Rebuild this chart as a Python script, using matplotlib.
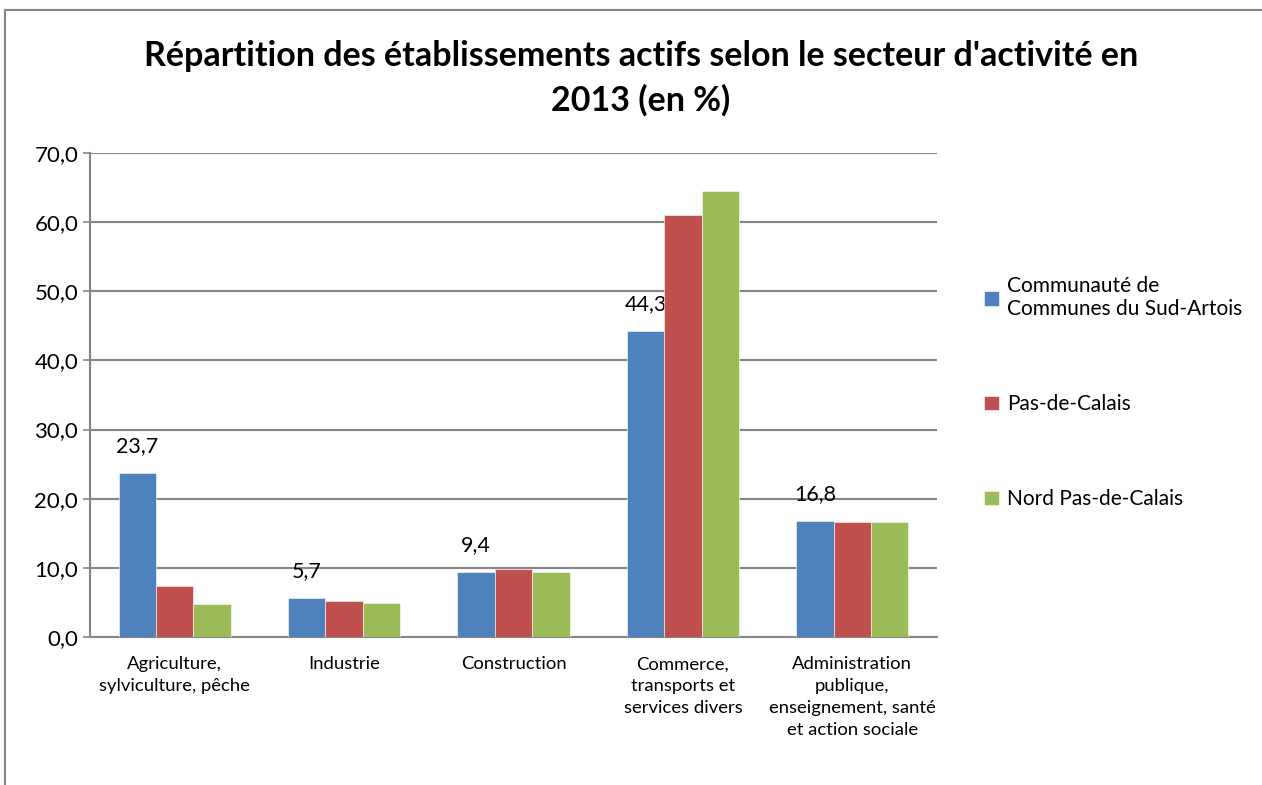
"""Répartition des établissements actifs par secteur d'activité, 2013."""
import matplotlib
matplotlib.use("Agg")
import matplotlib.pyplot as plt
import numpy as np
from matplotlib.patches import Rectangle
from matplotlib.ticker import FuncFormatter

categories = [
    "Agriculture,\nsylviculture, pêche",
    "Industrie",
    "Construction",
    "Commerce,\ntransports et\nservices divers",
    "Administration\npublique,\nenseignement, santé\net action sociale",
]
series_names = [
    "Communauté de\nCommunes du Sud-Artois",
    "Pas-de-Calais",
    "Nord Pas-de-Calais",
]
sud_artois = [23.7, 5.7, 9.4, 44.3, 16.8]
pas_de_calais = [7.4, 5.2, 9.8, 61.1, 16.7]
nord_pdc = [4.8, 4.9, 9.4, 64.5, 16.6]
colors = ["#4f81bd", "#c0504d", "#9bbb59"]

plt.rcParams["font.family"] = ["Lato", "DejaVu Sans"]

fig = plt.figure(figsize=(12.62, 7.85), dpi=100)
ax = fig.add_axes([0.0713, 0.1885, 0.6712, 0.6166])

x = np.arange(len(categories))
w = 0.221
all_series = [sud_artois, pas_de_calais, nord_pdc]
for i, (vals, name, col) in enumerate(zip(all_series, series_names, colors)):
    bars = ax.bar(x + (i - 1) * w, vals, w, color=col, label=name,
                  edgecolor="white", linewidth=0.4, zorder=3)
    if i == 0:
        for b, v in zip(bars, vals):
            ax.annotate(f"{v:.1f}".replace(".", ","),
                        (b.get_x() + b.get_width() / 2, v),
                        xytext=(0, 12), textcoords="offset points",
                        ha="center", va="bottom", fontsize=15.5)

ax.set_xlim(-0.5, len(categories) - 0.5)
ax.set_ylim(0, 70)
ax.set_yticks(np.arange(0, 71, 10))
ax.yaxis.set_major_formatter(FuncFormatter(lambda v, p: f"{v:.1f}".replace(".", ",")))
ax.grid(axis="y", color="#868686", linewidth=1.5, zorder=0)
ax.set_xticks(x)
ax.set_xticklabels(categories, fontsize=13.3, linespacing=1.45)
ax.tick_params(axis="x", length=0, pad=14)
ax.tick_params(axis="y", labelsize=16, length=5, color="#868686", width=1.2)
for s in ["top", "right"]:
    ax.spines[s].set_visible(False)
for s in ["left", "bottom"]:
    ax.spines[s].set_color("#868686")
    ax.spines[s].set_linewidth(1.5)

fig.text(0.508, 0.9, "Répartition des établissements actifs selon le secteur d'activité en\n2013 (en %)",
         ha="center", va="center", fontsize=24.5, fontweight="bold", linespacing=1.45)

fig.legend(loc="center left", bbox_to_anchor=(0.765, 0.5), frameon=False,
           fontsize=15, handlelength=0.7, handleheight=0.7, handletextpad=0.4,
           labelspacing=3.6)

fig.add_artist(Rectangle((0.004, -0.1), 1.2, 1.087, transform=fig.transFigure,
                         fill=False, edgecolor="#868686", linewidth=1.5))

fig.savefig("out.png", dpi=100)
